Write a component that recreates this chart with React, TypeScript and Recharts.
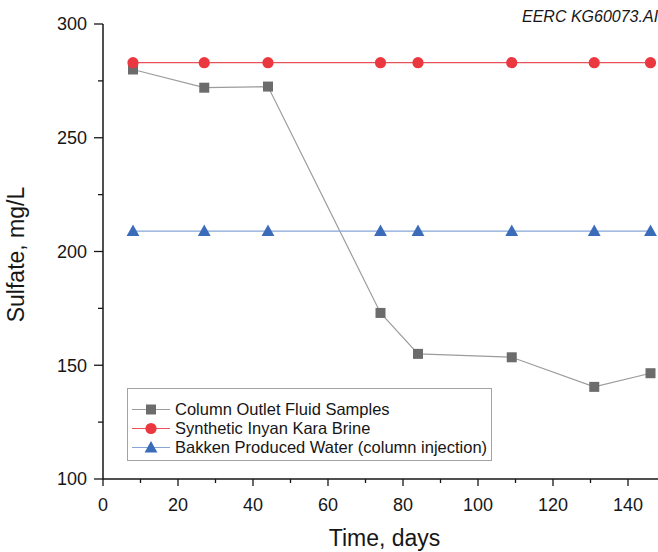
import React from "react";
import { LineChart, Line, XAxis, YAxis } from "recharts";

const days = [8, 27, 44, 74, 84, 109, 131, 146];
const outletSamples = [280, 272, 272.5, 173, 155, 153.5, 140.5, 146.5];
const brineLevel = [283, 283, 283, 283, 283, 283, 283, 283];
const bakkenLevel = [209, 209, 209, 209, 209, 209, 209, 209];

const xTicks = [0, 10, 20, 30, 40, 50, 60, 70, 80, 90, 100, 110, 120, 130, 140];
const yTicks = [100, 125, 150, 175, 200, 225, 250, 275, 300];

const seriesNames = [
  "Column Outlet Fluid Samples",
  "Synthetic Inyan Kara Brine",
  "Bakken Produced Water (column injection)",
];

const data = days.map((d, i) => ({
  day: d,
  outlet: outletSamples[i],
  brine: brineLevel[i],
  bakken: bakkenLevel[i],
}));

const FONT = '"Liberation Sans", Arial, sans-serif';
const INK = "#161616";
const GRAY = "#6c6c6c";
const GRAY_LINE = "#9c9c9c";
const RED = "#ea3740";
const RED_LINE = "#e9505a";
const BLUE = "#3a6cba";
const BLUE_LINE = "#86a6d8";

function Square({ cx, cy }: { cx: number; cy: number }) {
  return <rect x={cx - 5} y={cy - 5} width={10} height={10} fill={GRAY} />;
}
function Circle({ cx, cy }: { cx: number; cy: number }) {
  return <circle cx={cx} cy={cy} r={5.6} fill={RED} />;
}
function Triangle({ cx, cy }: { cx: number; cy: number }) {
  return <path d={`M${cx},${cy - 6.6} L${cx + 6.4},${cy + 5} L${cx - 6.4},${cy + 5} Z`} fill={BLUE} />;
}

function XTick({ x, y, payload }: any) {
  const major = payload.value % 20 === 0;
  return (
    <g>
      <line x1={x} x2={x} y1={y} y2={y + (major ? 7 : 4)} stroke={INK} strokeWidth={1.3} />
      {major && (
        <text x={x} y={y + 32} textAnchor="middle" fontSize={18} fontFamily={FONT} fill={INK}>
          {payload.value}
        </text>
      )}
    </g>
  );
}

function YTick({ x, y, payload }: any) {
  const major = payload.value % 50 === 0;
  return (
    <g>
      <line x1={x - (major ? 9 : 5)} x2={x} y1={y} y2={y} stroke={INK} strokeWidth={1.3} />
      {major && (
        <text x={x - 16} y={y} dy="0.36em" textAnchor="end" fontSize={18} fontFamily={FONT} fill={INK}>
          {payload.value}
        </text>
      )}
    </g>
  );
}

const legendMarkers = [
  { line: GRAY_LINE, Marker: Square },
  { line: RED_LINE, Marker: Circle },
  { line: BLUE_LINE, Marker: Triangle },
];

export default function App() {
  return (
    <div style={{ position: "absolute", left: 0, top: 0, width: 658, height: 552, background: "#fff", fontFamily: FONT }}>
      <LineChart width={658} height={552} data={data} margin={{ top: 24, right: 0, bottom: 0, left: 0 }}>
        <XAxis
          dataKey="day"
          type="number"
          domain={[0, 148]}
          ticks={xTicks}
          interval={0}
          tickSize={0}
          tickMargin={0}
          tickLine={false}
          tick={<XTick />}
          height={73}
          axisLine={{ stroke: INK, strokeWidth: 1.5 }}
          label={{
            content: ({ viewBox }: any) => (
              <text
                x={viewBox.x + viewBox.width / 2 + 4}
                y={viewBox.y + 67}
                textAnchor="middle"
                fontSize={23}
                fontFamily={FONT}
                fill={INK}
              >
                Time, days
              </text>
            ),
          }}
        />
        <YAxis
          type="number"
          domain={[100, 300]}
          ticks={yTicks}
          interval={0}
          tickSize={0}
          tickMargin={0}
          tickLine={false}
          tick={<YTick />}
          width={103}
          axisLine={{ stroke: INK, strokeWidth: 1.5 }}
          label={{
            content: ({ viewBox }: any) => {
              const cx = viewBox.x + 16;
              const cy = viewBox.y + viewBox.height / 2 + 3;
              return (
                <text
                  x={cx}
                  y={cy}
                  dy="0.36em"
                  transform={`rotate(-90 ${cx} ${cy})`}
                  textAnchor="middle"
                  fontSize={23}
                  fontFamily={FONT}
                  fill={INK}
                >
                  Sulfate, mg/L
                </text>
              );
            },
          }}
        />
        <Line
          type="linear"
          dataKey="outlet"
          name={seriesNames[0]}
          stroke={GRAY_LINE}
          strokeWidth={1.2}
          dot={(p: any) => <Square key={`o${p.index}`} cx={p.cx} cy={p.cy} />}
          activeDot={false}
          isAnimationActive={false}
        />
        <Line
          type="linear"
          dataKey="bakken"
          name={seriesNames[2]}
          stroke={BLUE_LINE}
          strokeWidth={1.2}
          dot={(p: any) => <Triangle key={`b${p.index}`} cx={p.cx} cy={p.cy} />}
          activeDot={false}
          isAnimationActive={false}
        />
        <Line
          type="linear"
          dataKey="brine"
          name={seriesNames[1]}
          stroke={RED_LINE}
          strokeWidth={1.2}
          dot={(p: any) => <Circle key={`r${p.index}`} cx={p.cx} cy={p.cy} />}
          activeDot={false}
          isAnimationActive={false}
        />
      </LineChart>

      <div
        style={{
          position: "absolute",
          left: 127,
          top: 388,
          width: 365,
          height: 73,
          boxSizing: "border-box",
          border: "1px solid #a3a3a3",
          background: "#fff",
          paddingTop: 11,
        }}
      >
        {seriesNames.map((name, i) => {
          const { line, Marker } = legendMarkers[i];
          return (
            <div key={name} style={{ display: "flex", alignItems: "center", height: 19 }}>
              <svg width={47} height={19} style={{ flex: "none" }}>
                <line x1={4} x2={42} y1={9.5} y2={9.5} stroke={line} strokeWidth={1.2} />
                <Marker cx={23} cy={9.5} />
              </svg>
              <span style={{ fontSize: 16.5, color: INK, whiteSpace: "nowrap" }}>{name}</span>
            </div>
          );
        })}
      </div>

      <div
        style={{
          position: "absolute",
          left: 522,
          top: 9,
          fontSize: 16,
          lineHeight: "16px",
          fontStyle: "italic",
          color: INK,
          whiteSpace: "nowrap",
        }}
      >
        EERC KG60073.AI
      </div>
    </div>
  );
}
